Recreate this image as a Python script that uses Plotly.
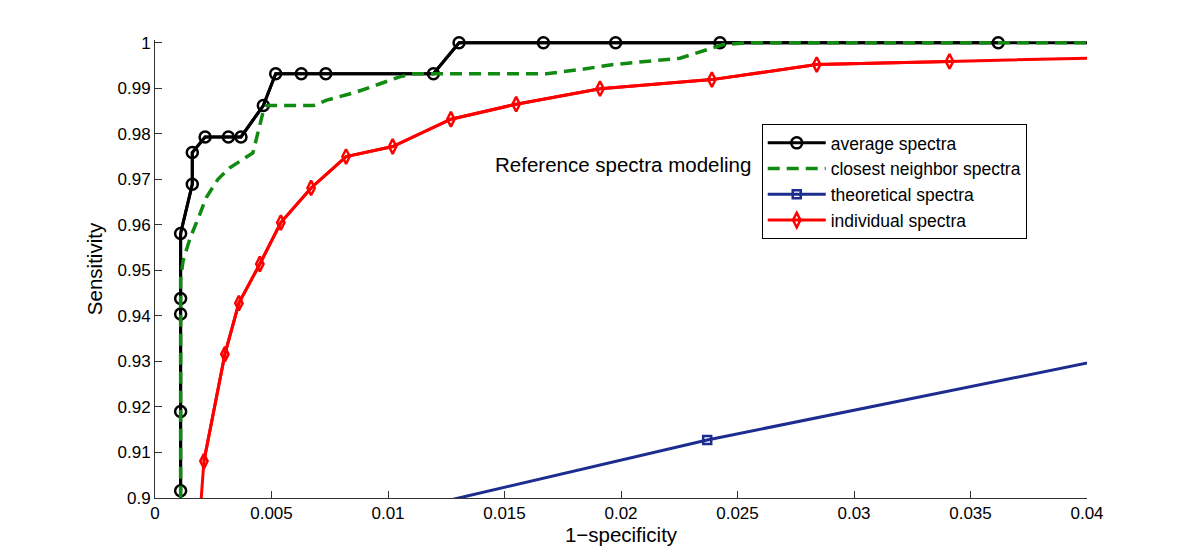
import plotly.graph_objects as go

# ROC points (a few points lie beyond the axes so lines run to the edges)
avg_fpr = [0.0011, 0.0011, 0.0011, 0.0011, 0.0011, 0.0011, 0.0016, 0.0016, 0.00215, 0.00315,
           0.00369, 0.00465, 0.00518, 0.00628, 0.00733, 0.01195, 0.01305, 0.01667, 0.01977,
           0.02425, 0.03619, 0.0460]
avg_sens = [0.850, 0.9016, 0.9190, 0.9404, 0.9438, 0.9581, 0.9689, 0.9759, 0.9793, 0.9793,
            0.9793, 0.9862, 0.9932, 0.9932, 0.9932, 0.9932, 1.0, 1.0, 1.0, 1.0, 1.0, 1.0]

near_fpr = [0.0011, 0.0011, 0.0012, 0.0015, 0.0019, 0.0022, 0.0027, 0.0032, 0.0042, 0.0044,
            0.00465, 0.0048, 0.0068, 0.00737, 0.00866, 0.0105, 0.0111, 0.0168, 0.01824,
            0.01967, 0.02253, 0.0244, 0.0254, 0.0460]
near_sens = [0.850, 0.948, 0.952, 0.957, 0.962, 0.966, 0.970, 0.9725, 0.9758, 0.9798,
             0.9850, 0.9862, 0.9862, 0.9874, 0.9892, 0.9925, 0.9932, 0.9932, 0.9941,
             0.9952, 0.9966, 0.9996, 1.0, 1.0]

theo_fpr = [0.0050, 0.0237, 0.0500]
theo_sens = [0.8904, 0.91275, 0.9400]

ind_fpr = [0.0017, 0.0021, 0.0030, 0.0036, 0.0045, 0.0054, 0.0067, 0.0082, 0.0102, 0.0127,
           0.0155, 0.0191, 0.0239, 0.0284, 0.0341, 0.0450]
ind_sens = [0.880, 0.9081, 0.9316, 0.9428, 0.9514, 0.9605, 0.9681, 0.9750, 0.9772, 0.9832,
            0.9865, 0.9899, 0.9919, 0.9952, 0.9959, 0.9972]

x_ticks = [0, 0.005, 0.01, 0.015, 0.02, 0.025, 0.03, 0.035, 0.04]
x_labels = ["0", "0.005", "0.01", "0.015", "0.02", "0.025", "0.03", "0.035", "0.04"]
y_ticks = [0.9, 0.91, 0.92, 0.93, 0.94, 0.95, 0.96, 0.97, 0.98, 0.99, 1.0]
y_labels = ["0.9", "0.91", "0.92", "0.93", "0.94", "0.95", "0.96", "0.97", "0.98", "0.99", "1"]

X_MAX = 0.04
Y_MIN = 0.9
FONT = "Liberation Sans, Arial, Helvetica, sans-serif"


def inside(xs, ys):
    pts = [(x, y) for x, y in zip(xs, ys) if x <= X_MAX and y >= Y_MIN]
    return [p[0] for p in pts], [p[1] for p in pts]


def add_series(fig, xs, ys, name, rank, color, width, symbol=None, size=None, dash="solid"):
    # full line (runs off the axes), then marked points on top for the legend
    line = dict(color=color, width=width, dash=dash)
    if symbol is None:
        fig.add_trace(go.Scatter(x=xs, y=ys, mode="lines", name=name, line=line,
                                 legendrank=rank))
        return
    fig.add_trace(go.Scatter(x=xs, y=ys, mode="lines", line=line, showlegend=False,
                             hoverinfo="skip", legendgroup=name))
    mx, my = inside(xs, ys)
    fig.add_trace(go.Scatter(
        x=mx, y=my, mode="lines+markers", name=name, legendgroup=name, legendrank=rank,
        line=line,
        marker=dict(symbol=symbol, size=size, color=color, line=dict(color=color, width=2.5)),
        cliponaxis=False,
    ))


fig = go.Figure()
add_series(fig, theo_fpr, theo_sens, "theoretical spectra", 3, "#1c2d8f", 3, "square-open", 8)
add_series(fig, ind_fpr, ind_sens, "individual spectra", 4, "#ff0000", 3, "diamond-tall-open", 10.5)
add_series(fig, avg_fpr, avg_sens, "average spectra", 1, "#000000", 3, "circle-open", 11)
# drawn last so its dashes sit on top of the black line where they share edges
add_series(fig, near_fpr, near_sens, "closest neighbor spectra", 2, "#118a11", 3.5,
           dash="12px,7px")

fig.add_annotation(x=0.0201, y=0.9732, text="Reference spectra modeling", showarrow=False,
                   xanchor="center", yanchor="middle", font=dict(size=20.5, color="#000000"))

axis_common = dict(
    showline=True, linecolor="#333333", linewidth=1, mirror=False,
    ticks="inside", ticklen=7, tickcolor="#333333", tickwidth=1,
    showgrid=False, zeroline=False,
    tickfont=dict(size=17, color="#000000", family=FONT),
)

fig.update_xaxes(range=[0, X_MAX], tickvals=x_ticks, ticktext=x_labels,
                 title=dict(text="1\u2212specificity", font=dict(size=20.5, color="#000000"), standoff=4),
                 **axis_common)
fig.update_yaxes(range=[Y_MIN, 1.0006], tickvals=y_ticks, ticktext=y_labels,
                 title=dict(text="Sensitivity", font=dict(size=20.5, color="#000000"), standoff=9),
                 **axis_common)

# the page puts the figure 8px in from the top-left corner, so the figure is 8px smaller
fig.update_layout(
    width=1192, height=552,
    margin=dict(l=147, r=113, t=32, b=62, autoexpand=False),
    paper_bgcolor="white", plot_bgcolor="white",
    font=dict(family=FONT, color="#000000"),
    legend=dict(
        x=0.651, y=0.8166, xanchor="left", yanchor="top",
        bgcolor="white", bordercolor="#000000", borderwidth=1,
        font=dict(size=17.5, color="#000000"), itemwidth=58,
        traceorder="normal",
    ),
    showlegend=True,
)

fig.write_html("out.html")
